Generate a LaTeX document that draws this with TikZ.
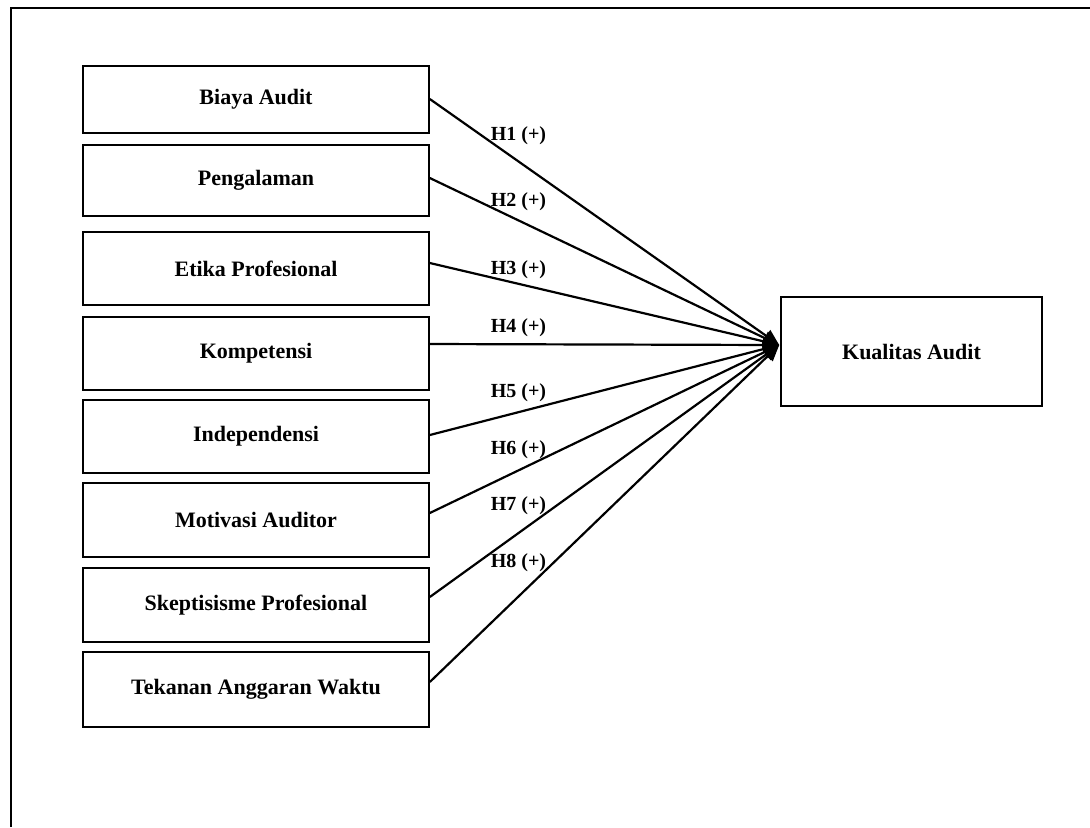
\documentclass[tikz,border=0pt]{standalone}
\usepackage{fontspec}
\setmainfont{Liberation Serif}
\usetikzlibrary{arrows.meta}

\begin{document}
\begin{tikzpicture}[x=0.5pt,y=-0.5pt,
    varbox/.style={draw, line width=0.8pt, minimum width=173pt, inner sep=0pt,
      font=\bfseries\fontsize{11}{13}\selectfont},
    hyp/.style={inner sep=0pt, font=\bfseries\fontsize{10}{12}\selectfont},
    link/.style={line width=1.1pt, -{Triangle[length=8pt,width=7pt]}}]
  \useasboundingbox (0,0) rectangle (1090,827);

  % frame (open at right and bottom)
  \draw[line width=1.4pt] (11,827) -- (11,8) -- (1090,8);

  % dependent variable
  \node[varbox, minimum width=130.5pt, minimum height=54.5pt] (ka) at (911.5,351.5) {Kualitas Audit};
  \coordinate (tip) at ([shift={(-1,-6.5)}]ka.west);

  % independent variables and their arrows
  \foreach \n/\y/\h/\d/\txt in {
      b1/99.5/33.5/-0.5/Biaya Audit,
      b2/180.5/35.5/-2.5/Pengalaman,
      b3/268.5/36.5/-5.5/Etika Profesional,
      b4/353.5/36.5/-9.5/Kompetensi,
      b5/436.5/36.5/-1.5/Independensi,
      b6/520/37/-7/Motivasi Auditor,
      b7/605/37/-8/Skeptisisme Profesional,
      b8/689.5/37.5/-7.5/Tekanan Anggaran Waktu} {
    \node[varbox, minimum height=\h pt] (\n) at (256,\y) {\txt};
    \draw[link] ([shift={(0,\d)}]\n.east) -- (tip);
  }

  % hypothesis labels
  \foreach \k/\y in {1/136,2/202,3/270,4/328,5/393,6/450,7/506,8/563} {
    \node[hyp] (h\k) at (518.5,\y) {H\k{} (+)};
  }
\end{tikzpicture}
\end{document}
